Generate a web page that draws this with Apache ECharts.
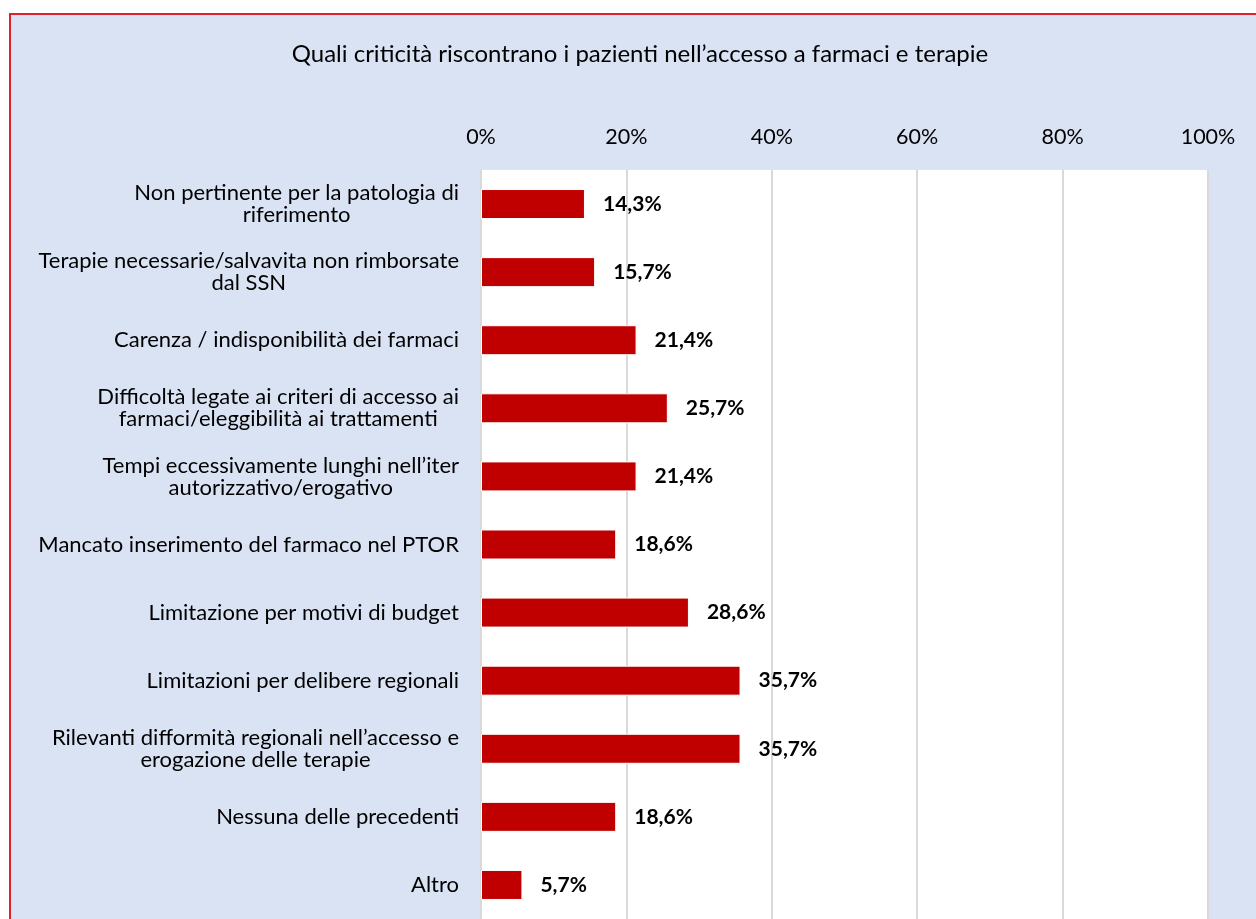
<!DOCTYPE html>
<html>
<head>
<meta charset="utf-8">
<script src="https://cdn.jsdelivr.net/npm/echarts@6/dist/echarts.min.js"></script>
<style>
  html, body { margin: 0; padding: 0; background: #fff; }
  #frame {
    position: absolute; left: 9px; top: 13px; width: 1270px; height: 940px;
    background: #dae3f3; border: 2px solid #d9242c; box-sizing: border-box;
  }
  #main { position: absolute; left: 0; top: 0; width: 1256px; height: 919px; }
</style>
</head>
<body>
<div id="frame"></div>
<div id="main"></div>
<script>
var categories = [
  'Non pertinente per la patologia di\nriferimento',
  'Terapie necessarie/salvavita non rimborsate\ndal SSN',
  'Carenza / indisponibilità dei farmaci',
  'Difficoltà legate ai criteri di accesso ai\nfarmaci/eleggibilità ai trattamenti',
  'Tempi eccessivamente lunghi nell’iter\nautorizzativo/erogativo',
  'Mancato inserimento del farmaco nel PTOR',
  'Limitazione per motivi di budget',
  'Limitazioni per delibere regionali',
  'Rilevanti difformità regionali nell’accesso e\nerogazione delle terapie',
  'Nessuna delle precedenti',
  'Altro'
];
var values = [14.3, 15.7, 21.4, 25.7, 21.4, 18.6, 28.6, 35.7, 35.7, 18.6, 5.7];
var tickValues = [0, 20, 40, 60, 80, 100];

var FONT = 'Lato';
var myChart = echarts.init(document.getElementById('main'));
var option = {
  backgroundColor: 'transparent',
  textStyle: { fontFamily: FONT },
  title: {
    text: 'Quali criticità riscontrano i pazienti nell’accesso a farmaci e terapie',
    left: 635,
    top: 37,
    textAlign: 'center',
    textStyle: { fontFamily: FONT, fontSize: 24, fontWeight: 'normal', color: '#000' }
  },
  grid: {
    left: 481,
    top: 170,
    width: 727,
    height: 751,
    show: true,
    backgroundColor: '#fff',
    borderWidth: 0,
    containLabel: false
  },
  xAxis: {
    type: 'value',
    position: 'top',
    min: tickValues[0],
    max: tickValues[tickValues.length - 1],
    interval: 20,
    axisLine: { show: false },
    axisTick: { show: false },
    axisLabel: {
      margin: 22,
      fontFamily: FONT,
      fontSize: 21.5,
      color: '#000',
      formatter: '{value}%'
    },
    splitLine: { show: true, lineStyle: { color: '#d9d9d9', width: 2 } }
  },
  yAxis: {
    type: 'category',
    inverse: true,
    data: categories,
    axisLine: { show: false },
    axisTick: { show: false },
    axisLabel: {
      margin: 22,
      color: '#000',
      fontFamily: FONT,
      fontSize: 22,
      lineHeight: 22,
      formatter: function (v) {
        return v.split('\n').map(function (l) { return '{c|' + l + '}'; }).join('\n');
      },
      rich: {
        c: { align: 'center', fontFamily: FONT, fontSize: 22, lineHeight: 22, color: '#000' }
      }
    }
  },
  series: [{
    type: 'bar',
    data: values,
    barWidth: 30,
    itemStyle: { color: '#c00000', borderColor: '#fff', borderWidth: 1 },
    label: {
      show: true,
      position: 'right',
      distance: 18,
      fontFamily: FONT,
      fontSize: 21,
      fontWeight: 'bold',
      color: '#000',
      formatter: function (p) { return p.value.toFixed(1).replace('.', ',') + '%'; }
    }
  }]
};
myChart.setOption(option);
</script>
</body>
</html>
